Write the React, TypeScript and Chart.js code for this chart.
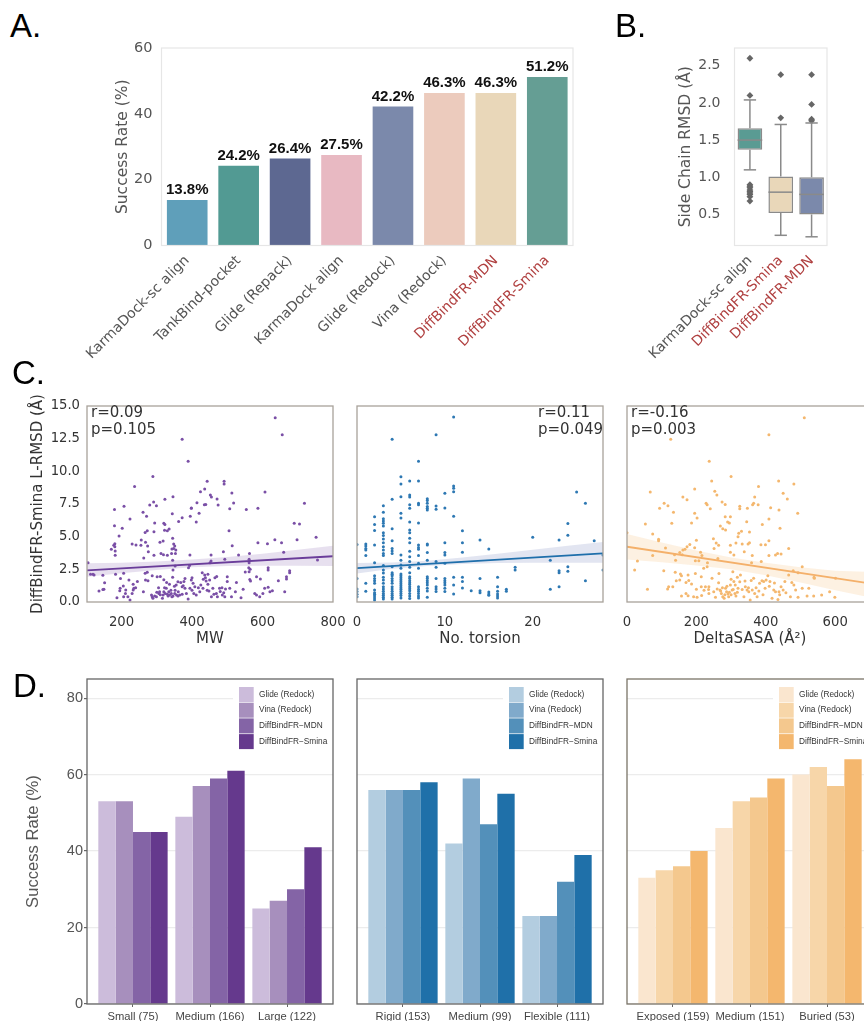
import React, { useEffect, useRef } from "react";
import { Chart, registerables } from "chart.js";

Chart.register(...registerables);

// ---------- Panel A ----------
const methodsA = ["KarmaDock-sc align", "TankBind-pocket", "Glide (Repack)", "KarmaDock align", "Glide (Redock)", "Vina (Redock)", "DiffBindFR-MDN", "DiffBindFR-Smina"];
const successA = [13.8, 24.2, 26.4, 27.5, 42.2, 46.3, 46.3, 51.2];
const coloursA = ["#5f9fba", "#529a93", "#5d6891", "#e8b9c2", "#7b89ab", "#eccbbd", "#e9d7b9", "#659e94"];

// ---------- Panel B ----------
const methodsB = ["KarmaDock-sc align", "DiffBindFR-Smina", "DiffBindFR-MDN"];
const q1B = [1.37, 0.52, 0.5];
const q3B = [1.66, 1.01, 1.0];
const medianB = [1.5, 0.8, 0.77];
const whiskerLowB = [1.1, 0.22, 0.2];
const whiskerHighB = [2.04, 1.71, 1.73];
const outliersB = [
  [2.6, 2.1, 0.9, 0.88, 0.86, 0.83, 0.81, 0.79, 0.77, 0.74, 0.68],
  [2.38, 1.8],
  [2.38, 1.98, 1.78, 1.76],
];
const coloursB = ["#5a9b93", "#e9d7b9", "#7b89ab"];

// ---------- Panel C ----------
const mwPoints = [
  [636,14.1],[656,12.8],[372,12.45],[389,10.77],[289,9.6],[237,8.83],[443,9.25],[491,9.25],[491,9.03],[513,8.34],[607,8.42],[424,8.44],[436,8.65],[452,8.19],[455,8.04],[346,8.06],[323,7.86],[471,7.88],[518,7.58],[719,7.55],[414,7.6],[435,7.45],[439,7.47],[474,7.42],[507,7.14],[587,7.17],[554,7.07],[291,7.65],[280,7.42],[299,7.37],[207,7.32],[180,7.07],[261,6.86],[271,6.56],[344,6.76],[372,6.45],[362,6.17],[395,6.56],[398,7.17],[398,7.2],[420,6.8],[412,6.12],[224,6.35],[294,6.05],[320,6.02],[323,5.94],[180,5.84],[202,5.64],[690,6.02],[705,5.97],[330,5.46],[335,5.59],[322,5.49],[292,5.38],[273,5.46],[267,5.31],[505,5.46],[193,5.05],[752,4.95],[345,4.87],[698,4.77],[635,4.77],[654,4.54],[587,4.54],[614,4.46],[514,4.31],[256,4.74],[318,4.67],[309,4.57],[268,4.57],[274,4.29],[348,4.44],[351,4.29],[348,4.1],[343,4.06],[354,3.98],[178,4.34],[181,4.46],[171,4.03],[181,4.23],[182,3.9],[182,3.57],[230,4.44],[241,4.36],[255,4.34],[263,3.37],[276,3.85],[292,3.57],[312,3.72],[319,3.62],[330,3.57],[342,3.72],[353,3.72],[345,3.19],[394,3.6],[454,3.6],[489,3.85],[532,3.6],[563,3.72],[660,3.8],[454,3.14],[451,3.0],[493,3.27],[562,3.27],[756,3.21],[105,3.0],[352,2.75],[393,2.8],[390,2.63],[346,2.45],[562,3.0],[561,2.63],[565,2.5],[616,2.63],[616,2.45],[551,2.3],[677,2.4],[677,2.24],
  [136,0.84],[150,0.97],[147,0.95],[152,1.48],[147,2.04],[119,2.12],[112,2.12],[122,2.07],[187,0.33],[183,2.12],[197,1.79],[206,2.2],[196,1.05],[195,0.87],[206,0.4],[205,1.22],[212,0.92],[211,0.66],[218,0.41],[224,0.15],[221,1.68],[233,1.35],[233,0.92],[230,0.66],[235,1.05],[240,1.1],[245,1.56],[262,0.79],[267,2.2],[273,2.27],[268,1.68],[275,1.63],[287,2.01],[301,1.94],[285,0.54],[287,0.41],[289,0.28],[294,0.46],[299,0.41],[306,0.66],[308,0.79],[316,0.28],[318,0.54],[320,0.79],[324,0.66],[327,1.05],[332,0.46],[334,0.79],[336,0.54],[341,0.66],[346,0.46],[351,0.66],[356,0.54],[361,0.79],[365,0.54],[372,1.17],[377,1.56],[380,1.05],[384,0.66],[389,0.23],[394,1.05],[398,1.68],[403,1.43],[408,1.17],[412,0.54],[422,0.79],[431,1.05],[429,2.24],[436,2.07],[445,2.12],[450,1.68],[459,1.05],[455,0.41],[469,0.66],[472,0.41],[478,1.05],[486,0.54],[493,0.41],[500,1.94],[500,1.56],[507,1.05],[512,0.41],[526,1.5],[523,0.79],[539,0.33],[545,0.97],[562,2.32],[564,1.73],[566,1.6],[578,0.66],[583,1.94],[594,1.76],[583,0.54],[592,0.41],[601,0.66],[606,1.05],[616,1.12],[621,0.79],[628,0.87],[645,1.63],[668,1.94],[668,1.76],[663,0.79],
  [310,1.95],[320,1.7],[328,1.5],[336,1.35],[345,1.9],[350,1.2],[322,1.1],[340,0.9],[352,0.9],[368,1.5],[375,1.25],[400,0.9],[405,0.65],[418,1.1],[425,1.3],[440,1.6],[445,1.35],[448,0.85],[462,0.6],[465,1.85],[470,1.95],[480,0.8],[485,1.1],[490,0.7],[495,1.0],[443,0.9],[438,1.85],[432,1.75],[400,1.85],[380,1.8],[360,1.55],[355,1.3],[305,1.1],[300,0.75],[310,0.55],[330,0.6],[343,0.4],[360,0.45],[372,0.6],
];
const mwFit = [[102,2.42],[800,3.5]];
const mwBandHigh = [[102,2.96],[200,3.0],[300,3.1],[400,3.25],[500,3.45],[600,3.7],[700,4.0],[800,4.3]];
const mwBandLow = [[102,1.94],[200,2.2],[300,2.45],[400,2.65],[500,2.75],[600,2.78],[700,2.78],[800,2.75]];

const torsionColumns: [number, number[]][] = [
  [0,[4.41,1.8,1.0,0.8,0.6,0.4]],
  [1,[4.44,4.29,4.1,3.98,3.55,1.43,0.82]],
  [2,[6.53,5.94,5.48,4.36,3.0,2.0,1.8,1.63,1.43,0.92,0.71,0.59,0.46,0.31,0.15]],
  [3,[7.37,6.86,6.38,6.2,6.02,5.82,5.3,5.08,4.82,4.54,4.23,3.98,3.72,3.55,2.8,2.45,2.22,1.89,1.68,1.43,1.17,1.0,0.82,0.66,0.51,0.36,0.23]],
  [4,[12.45,7.86,5.61,4.69,4.1,3.9,3.72,2.7,2.24,2.12,2.0,1.8,1.63,1.43,1.17,1.0,0.82,0.66,0.51,0.36,0.23]],
  [5,[9.59,9.03,8.06,6.79,6.43,3.6,3.2,2.83,2.58,2.14,2.0,1.85,1.7,1.55,1.4,1.25,1.1,0.95,0.8,0.65,0.5,0.3]],
  [6,[9.26,8.19,8.04,7.45,7.17,6.12,5.51,5.3,4.87,4.54,3.88,3.47,3.09,2.65,2.24,1.94,1.79,1.63,1.48,1.33,1.17,1.02,0.87,0.66,0.46,0.26]],
  [7,[10.77,9.26,7.55,7.45,6.05,4.36,4.18,4.03,3.55,2.96,2.58,1.17,0.97,0.82,0.66,0.46,0.31]],
  [8,[7.91,7.76,7.55,7.3,7.17,7.04,4.44,4.36,3.78,3.2,1.94,1.8,1.63,1.48,1.3,1.05,0.84,0.36]],
  [9,[12.8,7.35,7.09,3.09,2.65,1.8,1.17,1.0,0.8]],
  [10,[8.32,7.2,4.54,3.78,3.6,2.96,1.8,1.63,1.48,1.3,1.05,0.8]],
  [11,[14.16,8.88,8.7,8.44,6.56,1.89,1.3,0.61]],
  [12,[5.46,4.54,3.8,1.89,1.56,1.07]],
  [13,[0.87]],
  [14,[4.74,1.79,0.87,0.71]],
  [15,[4.06,0.77,0.61,0.52]],
  [16,[1.89,1.17,0.82,0.61,0.46,0.31]],
  [17,[0.97,0.82]],
  [18,[2.65,2.45]],
  [20,[4.95]],
  [22,[3.2,0.97]],
  [23,[4.74,2.4,2.24,1.17]],
  [24,[6.0,5.1,2.7,2.35]],
  [25,[8.42]],
  [26,[7.55,1.63]],
  [27,[4.69]],
  [28,[3.6,2.45]],
];
const torsionFit = [[0,2.6],[28,3.72]];
const torsionBandHigh = [[0,2.98],[4,3.02],[8,3.15],[12,3.4],[16,3.7],[20,4.0],[24,4.3],[28,4.6]];
const torsionBandLow = [[0,2.19],[4,2.55],[8,2.75],[12,2.9],[16,2.98],[20,3.0],[24,3.0],[28,3.0]];

const sasaPoints = [
  [511,14.1],[409,12.8],[126,12.45],[237,10.77],[300,9.6],[244,9.26],[437,9.26],[481,9.03],[379,8.83],[195,8.65],[253,8.47],[450,8.32],[67,8.42],[259,8.19],[161,8.04],[368,8.04],[462,7.88],[173,7.83],[274,7.65],[107,7.55],[228,7.55],[231,7.45],[365,7.55],[362,7.45],[378,7.45],[118,7.37],[283,7.47],[325,7.32],[94,7.17],[240,7.14],[325,7.14],[347,7.17],[414,7.22],[438,7.04],[134,6.86],[195,6.79],[492,6.79],[283,6.53],[298,6.53],[202,6.43],[409,6.35],[345,6.15],[186,6.05],[290,6.12],[295,6.05],[53,5.97],[129,6.02],[390,5.94],[269,5.82],[276,5.61],[284,5.51],[441,5.64],[330,5.41],[322,5.26],[353,5.36],[74,5.2],[320,5.0],[0,5.3],[91,4.8],[91,4.69],[200,4.72],[249,4.85],[314,4.52],[257,4.52],[264,4.34],[181,4.41],[353,4.54],[349,4.44],[298,4.34],[332,4.44],[386,4.39],[409,4.69],[399,4.39],[173,4.23],[195,4.16],[111,4.13],[167,4.03],[251,4.1],[466,4.1],[161,3.98],[212,3.8],[152,3.78],[338,3.85],[298,3.8],[434,3.72],[444,3.67],[137,3.62],[159,3.62],[308,3.6],[216,3.55],[74,3.55],[361,3.55],[409,3.55],[428,3.6],[197,3.16],[140,3.2],[30,3.14],[207,3.16],[262,3.32],[232,3.0],[359,3.0],[387,3.1],[505,2.7],[231,2.7],[221,2.58],[22,2.45],[106,2.4],[139,2.27],[154,2.14],[157,2.0],[176,2.07],[197,2.19],[305,2.32],[479,2.4],[493,2.24],[540,1.81],[539,1.89],[601,1.81],[265,2.19],
  [59,0.97],[117,1.0],[120,1.17],[132,1.17],[142,1.63],[152,1.68],[157,0.46],[170,0.66],[176,0.48],[186,1.38],[192,0.41],[202,0.36],[200,0.97],[214,1.94],[214,1.17],[226,1.17],[236,1.17],[245,1.81],[236,0.66],[250,0.79],[255,0.36],[264,1.48],[268,0.92],[272,0.66],[276,0.41],[280,0.28],[284,1.05],[287,0.79],[291,0.61],[293,0.41],[298,1.3],[303,0.92],[308,1.56],[311,0.66],[314,0.46],[320,1.05],[327,2.07],[337,0.41],[341,1.17],[346,0.92],[351,0.79],[355,0.15],[361,0.92],[365,1.81],[368,0.66],[375,0.41],[382,1.43],[389,1.63],[394,1.56],[401,1.68],[406,2.0],[412,1.56],[418,0.28],[423,0.92],[428,0.79],[435,0.2],[438,0.79],[444,1.17],[450,0.92],[455,1.56],[466,2.07],[471,0.41],[481,1.3],[486,0.92],[493,0.36],[505,1.05],[524,1.05],[519,0.46],[538,0.46],[561,0.54],[584,0.79],[599,0.36],
  [270,0.85],[275,1.1],[282,0.55],[288,1.2],[295,0.75],[300,0.55],[306,0.95],[312,1.3],[318,0.75],[325,1.55],[332,0.95],[340,1.6],[350,1.1],[358,1.65],[372,1.1],[380,0.85],[392,0.55],[398,1.05],[410,1.2],[425,1.45],[440,0.55],[458,0.7],[475,1.5],[235,0.95],[260,1.0],[215,0.5],[222,0.9],[170,1.5],[178,1.65],[300,1.75],[318,1.9],
];
const sasaFit = [[0,4.23],[709,1.38]];
const sasaBandHigh = [[0,5.2],[100,4.55],[200,3.95],[300,3.4],[400,3.0],[500,2.65],[600,2.4],[709,2.3]];
const sasaBandLow = [[0,3.26],[100,3.05],[200,2.8],[300,2.5],[400,2.05],[500,1.5],[600,0.9],[709,0.3]];

// ---------- Panel D ----------
const seriesD = ["Glide (Redock)", "Vina (Redock)", "DiffBindFR\u2212MDN", "DiffBindFR\u2212Smina"];
const groupsMW = ["Small (75)", "Medium (166)", "Large (122)"];
const valuesMW = [[53, 49, 25], [53, 57, 27], [45, 59, 30], [45, 61, 41]];
const coloursMW = ["#ccbcdb", "#a78fbd", "#8464a6", "#65398d"];
const groupsTorsion = ["Rigid (153)", "Medium (99)", "Flexible (111)"];
const valuesTorsion = [[56, 42, 23], [56, 59, 23], [56, 47, 32], [58, 55, 39]];
const coloursTorsion = ["#b3cde0", "#80aacb", "#5390ba", "#1f70a9"];
const groupsSasa = ["Exposed (159)", "Medium (151)", "Buried (53)"];
const valuesSasa = [[33, 46, 60], [35, 53, 62], [36, 54, 57], [40, 59, 64]];
const coloursSasa = ["#fae6cf", "#f7d6a9", "#f4c88e", "#f4b76e"];

const SANS = "'DejaVu Sans'";
const ARIAL = "'Liberation Sans'";
const RED = "#b04040";
const GREY = "#555555";

type Box = { left: number; top: number; right: number; bottom: number };

const framePlugin = {
  id: "frame",
  afterDatasetsDraw(chart: any, _a: any, opts: any) {
    const { ctx, chartArea: c } = chart;
    ctx.save();
    ctx.strokeStyle = opts.color;
    ctx.lineWidth = opts.width;
    ctx.strokeRect(c.left, c.top, c.right - c.left, c.bottom - c.top);
    ctx.restore();
  },
};

const valueLabelPlugin = {
  id: "valueLabels",
  afterDatasetsDraw(chart: any) {
    const { ctx } = chart;
    const meta = chart.getDatasetMeta(0);
    ctx.save();
    ctx.font = `bold 15px ${ARIAL}`;
    ctx.fillStyle = "#111";
    ctx.textAlign = "center";
    ctx.textBaseline = "middle";
    meta.data.forEach((bar: any, i: number) => {
      ctx.fillText(successA[i].toFixed(1) + "%", bar.x, bar.y - 10);
    });
    ctx.restore();
  },
};

const boxPlugin = {
  id: "boxes",
  afterDatasetsDraw(chart: any) {
    const { ctx, scales } = chart;
    const meta = chart.getDatasetMeta(0);
    ctx.save();
    ctx.strokeStyle = "#8a8a8a";
    ctx.lineWidth = 1.5;
    meta.data.forEach((bar: any, i: number) => {
      const half = bar.width / 2;
      const y = (v: number) => scales.y.getPixelForValue(v);
      const seg = (x0: number, y0: number, x1: number, y1: number) => {
        ctx.beginPath();
        ctx.moveTo(x0, y0);
        ctx.lineTo(x1, y1);
        ctx.stroke();
      };
      seg(bar.x - half, y(medianB[i]), bar.x + half, y(medianB[i]));
      seg(bar.x, y(q3B[i]), bar.x, y(whiskerHighB[i]));
      seg(bar.x, y(q1B[i]), bar.x, y(whiskerLowB[i]));
      seg(bar.x - half / 2, y(whiskerHighB[i]), bar.x + half / 2, y(whiskerHighB[i]));
      seg(bar.x - half / 2, y(whiskerLowB[i]), bar.x + half / 2, y(whiskerLowB[i]));
    });
    ctx.restore();
  },
};

const notePlugin = {
  id: "note",
  afterDatasetsDraw(chart: any, _a: any, opts: any) {
    const { ctx, chartArea: c } = chart;
    ctx.save();
    ctx.font = `15px ${SANS}`;
    ctx.fillStyle = "#333";
    ctx.textBaseline = "middle";
    const x = c.left + opts.dx;
    ctx.fillText(opts.lines[0], x, c.top + 7);
    ctx.fillText(opts.lines[1], x, c.top + 24);
    ctx.restore();
  },
};

const legendPlugin = {
  id: "cornerLegend",
  afterDatasetsDraw(chart: any) {
    const { ctx, chartArea: c } = chart;
    const x = c.left + 152;
    const top = c.top + 8;
    ctx.save();
    ctx.fillStyle = "#fff";
    ctx.fillRect(x - 6, c.top + 1, 102, 72);
    ctx.font = `8.3px ${ARIAL}`;
    ctx.textBaseline = "middle";
    chart.data.datasets.forEach((d: any, i: number) => {
      ctx.fillStyle = d.backgroundColor;
      ctx.fillRect(x, top + i * 15.7, 14.7, 15);
      ctx.fillStyle = "#333";
      ctx.fillText(d.label, x + 20, top + i * 15.7 + 7.5);
    });
    ctx.restore();
  },
};

function fitted(plot: Box, rect: Box) {
  return {
    layout: { padding: { top: plot.top - rect.top, right: rect.right - plot.right, left: 0, bottom: 0 } },
    widthFit: (s: any) => { s.width = plot.left - rect.left; },
    heightFit: (s: any) => { s.height = rect.bottom - plot.bottom; },
  };
}

const base = { animation: false as const, responsive: false, maintainAspectRatio: false };
const noGrid = { display: false, drawTicks: false };

function configA(rect: Box) {
  const plot = { left: 161.5, top: 48, right: 573, bottom: 245.5 };
  const f = fitted(plot, rect);
  return {
    type: "bar",
    data: { labels: methodsA, datasets: [{ data: successA, backgroundColor: coloursA, categoryPercentage: 0.79, barPercentage: 1, borderWidth: 0 }] },
    options: {
      ...base, layout: f.layout,
      plugins: { legend: { display: false }, tooltip: { enabled: false }, frame: { color: "#e6e6e6", width: 1.2 } },
      scales: {
        x: { afterFit: f.heightFit, grid: noGrid, border: { display: false }, ticks: { autoSkip: false, minRotation: 45, maxRotation: 45, padding: 7, font: { family: SANS, size: 14 }, color: (c: any) => (c.index >= 6 ? RED : GREY) } },
        y: { afterFit: f.widthFit, min: 0, max: 60, grid: noGrid, border: { display: false }, title: { display: true, text: "Success Rate (%)", color: GREY, font: { family: SANS, size: 15.5 }, padding: { top: 53.7, bottom: 0 } }, ticks: { stepSize: 20, padding: 9, font: { family: SANS, size: 14.5 }, color: GREY } },
      },
    },
    plugins: [framePlugin, valueLabelPlugin],
  };
}

function configB(rect: Box) {
  const plot = { left: 734.5, top: 48, right: 827, bottom: 245.5 };
  const f = fitted(plot, rect);
  const points: any[] = [];
  methodsB.forEach((m, i) => outliersB[i].forEach((v) => points.push({ x: m, y: v })));
  return {
    type: "bar",
    data: {
      labels: methodsB,
      datasets: [
        { data: methodsB.map((_, i) => [q1B[i], q3B[i]]), backgroundColor: coloursB, borderColor: "#8a8a8a", borderWidth: 1.5, borderSkipped: false, categoryPercentage: 0.8, barPercentage: 1 },
        { type: "scatter", data: points, pointStyle: "rectRot", pointRadius: 3.4, backgroundColor: "#666", borderWidth: 0 },
      ],
    },
    options: {
      ...base, layout: f.layout,
      plugins: { legend: { display: false }, tooltip: { enabled: false }, frame: { color: "#e6e6e6", width: 1.2 } },
      scales: {
        x: { type: "category", afterFit: f.heightFit, grid: noGrid, border: { display: false }, ticks: { autoSkip: false, minRotation: 45, maxRotation: 45, padding: 7, font: { family: SANS, size: 14 }, color: (c: any) => (c.index >= 1 ? RED : GREY) } },
        y: { afterFit: f.widthFit, min: 0.083, max: 2.738, grid: noGrid, border: { display: false }, title: { display: true, text: "Side Chain RMSD (\u00c5)", color: GREY, font: { family: SANS, size: 15.5 }, padding: { top: 66.7, bottom: 0 } }, afterBuildTicks: (s: any) => { s.ticks = [0.5, 1, 1.5, 2, 2.5].map((value) => ({ value })); }, ticks: { padding: 14, font: { family: SANS, size: 14 }, color: GREY, callback: (v: any) => Number(v).toFixed(1) } },
      },
    },
    plugins: [framePlugin, boxPlugin],
  };
}

function toXY(list: number[][]) {
  return list.map(([x, y]) => ({ x, y }));
}

function configC(rect: Box, plot: Box, o: any) {
  const f = fitted(plot, rect);
  return {
    type: "scatter",
    data: {
      datasets: [
        { data: toXY(o.fit), showLine: true, borderColor: o.colour, borderWidth: 1.8, pointRadius: 0 },
        { data: toXY(o.points), pointRadius: 1.5, backgroundColor: o.pointColour, borderWidth: 0 },
        { data: toXY(o.high), showLine: true, borderWidth: 0, pointRadius: 0, fill: false },
        { data: toXY(o.low), showLine: true, borderWidth: 0, pointRadius: 0, fill: "-1", backgroundColor: o.band },
      ],
    },
    options: {
      ...base, layout: f.layout,
      plugins: { legend: { display: false }, tooltip: { enabled: false }, frame: { color: "#a8a29a", width: 1.3 }, note: { lines: o.note, dx: o.noteX } },
      scales: {
        x: { afterFit: f.heightFit, min: o.xMin, max: o.xMax, grid: noGrid, border: { display: false }, title: { display: true, text: o.xTitle, color: "#333", font: { family: SANS, size: 15 }, padding: { top: 0, bottom: o.titleBottom } }, ticks: { stepSize: o.xStep, includeBounds: false, padding: 13, maxRotation: 0, font: { family: SANS, size: 13.2 }, color: "#333" } },
        y: {
          afterFit: f.widthFit, min: 0, max: 15, grid: noGrid, border: { display: false },
          title: { display: !!o.yTitle, text: o.yTitle, color: "#333", font: { family: SANS, size: 15 }, padding: { top: 29, bottom: 0 } },
          ticks: { display: !!o.yTitle, stepSize: 2.5, padding: 7, font: { family: SANS, size: 13.2 }, color: "#333", callback: (v: any) => Number(v).toFixed(1) },
        },
      },
    },
    plugins: [framePlugin, notePlugin],
  };
}

function configD(rect: Box, plot: Box, o: any) {
  const f = fitted(plot, rect);
  const labels: string[] = o.groups;
  return {
    type: "bar",
    data: {
      datasets: o.values.map((vals: number[], i: number) => ({
        label: seriesD[i],
        data: vals.map((v, j) => ({ x: j + 1, y: v })),
        backgroundColor: o.colours[i],
        borderWidth: 0,
        categoryPercentage: 0.9,
        barPercentage: 1,
      })),
    },
    options: {
      ...base, layout: f.layout,
      plugins: { legend: { display: false }, tooltip: { enabled: false }, frame: { color: o.frame, width: 1.3 } },
      scales: {
        x: {
          type: "linear", offset: false, afterFit: f.heightFit, min: 0.403, max: 3.597,
          afterBuildTicks: (s: any) => { s.ticks = labels.map((_, i) => ({ value: i + 1 })); },
          grid: { offset: false, drawOnChartArea: false, tickLength: 3, tickColor: "#666" }, border: { display: false },
          ticks: { autoSkip: false, maxRotation: 0, padding: 3, font: { family: ARIAL, size: 11.2 }, color: "#444", callback: (v: any) => labels[Number(v) - 1] },
        },
        y: {
          afterFit: f.widthFit, min: 0, max: 85, border: { display: false },
          grid: { color: "#ececec", lineWidth: 1.2, tickLength: o.yTitle ? 3 : 0, tickColor: "#666" },
          title: { display: !!o.yTitle, text: o.yTitle, color: GREY, font: { family: ARIAL, size: 16.6 }, padding: { top: 23, bottom: 0 } },
          ticks: { display: !!o.yTitle, stepSize: 20, includeBounds: false, padding: 1, font: { family: ARIAL, size: 14.5 }, color: GREY },
        },
      },
    },
    plugins: [legendPlugin, framePlugin],
  };
}

const panels: { rect: Box; make: (r: Box) => any }[] = [
  { rect: { left: 60, top: 20, right: 590, bottom: 375 }, make: configA },
  { rect: { left: 610, top: 20, right: 850, bottom: 375 }, make: configB },
  {
    rect: { left: 0, top: 380, right: 370, bottom: 650 },
    make: (r) => configC(r, { left: 87, top: 406, right: 333, bottom: 602 }, {
      points: mwPoints, fit: mwFit, high: mwBandHigh, low: mwBandLow, colour: "#6a3d9a", pointColour: "#7a4fa6", band: "rgba(106,61,154,0.16)",
      xMin: 102, xMax: 800, xStep: 200, xTitle: "MW", yTitle: "DiffBindFR-Smina L-RMSD (\u00c5)", note: ["r=0.09", "p=0.105"], noteX: 4, titleBottom: 2,
    }),
  },
  {
    rect: { left: 335, top: 380, right: 640, bottom: 650 },
    make: (r) => configC(r, { left: 357, top: 406, right: 603, bottom: 602 }, {
      points: torsionColumns.flatMap(([x, ys]) => ys.map((y) => [x, y])), fit: torsionFit, high: torsionBandHigh, low: torsionBandLow, colour: "#1f6fab", pointColour: "#2d78b3", band: "rgba(110,125,185,0.2)",
      xMin: 0, xMax: 28, xStep: 10, xTitle: "No. torsion", yTitle: "", note: ["r=0.11", "p=0.049"], noteX: 181, titleBottom: 2,
    }),
  },
  {
    rect: { left: 600, top: 380, right: 910, bottom: 650 },
    make: (r) => configC(r, { left: 627, top: 406, right: 873, bottom: 602 }, {
      points: sasaPoints, fit: sasaFit, high: sasaBandHigh, low: sasaBandLow, colour: "#f4b06a", pointColour: "#f4b76e", band: "rgba(244,184,111,0.2)",
      xMin: 0, xMax: 709, xStep: 200, xTitle: "DeltaSASA (\u00c5\u00b2)", yTitle: "", note: ["r=-0.16", "p=0.003"], noteX: 4, titleBottom: 2,
    }),
  },
  {
    rect: { left: 0, top: 655, right: 350, bottom: 1021 },
    make: (r) => configD(r, { left: 87, top: 679, right: 333, bottom: 1004 }, { groups: groupsMW, values: valuesMW, colours: coloursMW, yTitle: "Success Rate (%)", frame: "#666" }),
  },
  {
    rect: { left: 345, top: 655, right: 620, bottom: 1021 },
    make: (r) => configD(r, { left: 357, top: 679, right: 603, bottom: 1004 }, { groups: groupsTorsion, values: valuesTorsion, colours: coloursTorsion, yTitle: "", frame: "#666" }),
  },
  {
    rect: { left: 615, top: 655, right: 890, bottom: 1021 },
    make: (r) => configD(r, { left: 627, top: 679, right: 873, bottom: 1004 }, { groups: groupsSasa, values: valuesSasa, colours: coloursSasa, yTitle: "", frame: "#7a7468" }),
  },
];

const letters: [string, number, number][] = [["A.", 10, 37], ["B.", 615, 37], ["C.", 12, 384], ["D.", 13, 697]];

export default function App() {
  const refs = useRef<(HTMLCanvasElement | null)[]>([]);
  useEffect(() => {
    const charts = panels.map((p, i) => new Chart(refs.current[i] as HTMLCanvasElement, p.make(p.rect)));
    return () => charts.forEach((c) => c.destroy());
  }, []);
  return (
    <div style={{ position: "absolute", left: 0, top: 0, width: 864, height: 1021, overflow: "hidden", background: "#fff", filter: "blur(0.4px)" }}>
      {panels.map((p, i) => (
        <canvas
          key={i}
          ref={(el) => { refs.current[i] = el; }}
          width={p.rect.right - p.rect.left}
          height={p.rect.bottom - p.rect.top}
          style={{ position: "absolute", left: p.rect.left, top: p.rect.top, width: p.rect.right - p.rect.left, height: p.rect.bottom - p.rect.top }}
        />
      ))}
      {letters.map(([t, x, base]) => (
        <div key={t} style={{ position: "absolute", left: x, top: base - 28, font: `33px/33px ${ARIAL}`, color: "#000" }}>{t}</div>
      ))}
    </div>
  );
}
